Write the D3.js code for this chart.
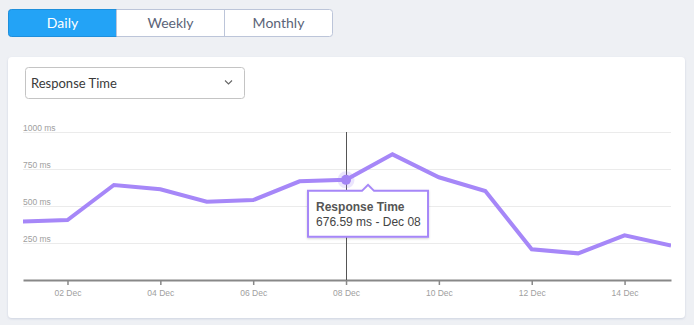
<!DOCTYPE html>
<html><head><meta charset="utf-8">
<script src="https://cdn.jsdelivr.net/npm/d3@7"></script>
<style>
html,body{margin:0;padding:0;background:#eef0f4;}
svg{display:block;}
</style></head>
<body>
<svg id="c" width="694" height="325"></svg>
<script>
// ---- data ----
const periods = ["Daily", "Weekly", "Monthly"];
const metricLabel = "Response Time";
const days = [1,2,3,4,5,6,7,8,9,10,11,12,13,14,15];
const responseMs = [395, 405, 642, 613, 529, 540, 667, 676.59, 849, 694, 601, 207, 180, 302, 232];
const yTicks = [250, 500, 750, 1000];
const xTickDays = [2, 4, 6, 8, 10, 12, 14];
const highlightDay = 8;

const data = days.map((d, i) => ({date: new Date(2023, 11, d), v: responseMs[i]}));

const svg = d3.select("#c");
const defs = svg.append("defs");
const sh = defs.append("filter").attr("id","sh").attr("x","-20%").attr("y","-20%").attr("width","140%").attr("height","160%");
sh.append("feDropShadow").attr("dx",0).attr("dy",1).attr("stdDeviation",1.2).attr("flood-color","#000").attr("flood-opacity",0.18);
const sh2 = defs.append("filter").attr("id","sh2").attr("x","-5%").attr("y","-5%").attr("width","110%").attr("height","110%");
sh2.append("feDropShadow").attr("dx",0).attr("dy",1).attr("stdDeviation",1).attr("flood-color","#8090b0").attr("flood-opacity",0.3);

// ---- button group ----
const bx = d3.scaleBand().domain(periods).range([8.5, 332.5]);
const bg = svg.append("g");
bg.append("rect").attr("x",8.5).attr("y",9.5).attr("width",324).attr("height",27).attr("rx",3)
  .attr("fill","#fff").attr("stroke","#bcc5d9");
periods.forEach((p, i) => {
  if (i === 0) {
    bg.append("path").attr("d", `M${bx(p)+3},9.5 H${bx(p)+bx.bandwidth()} V36.5 H${bx(p)+3} Q${bx(p)},36.5 ${bx(p)},33.5 V12.5 Q${bx(p)},9.5 ${bx(p)+3},9.5 Z`)
      .attr("fill","#23a3f6").attr("stroke","#1e8fdc");
  } else {
    bg.append("line").attr("x1",bx(p)).attr("x2",bx(p)).attr("y1",9.5).attr("y2",36.5).attr("stroke","#bcc5d9");
  }
  bg.append("text").attr("x", bx(p)+bx.bandwidth()/2).attr("y", 28)
    .attr("text-anchor","middle").attr("font-family","Lato, 'Open Sans', sans-serif").attr("font-size",14)
    .attr("fill", i===0 ? "#fff" : "#5b6478").text(p);
});

// ---- card ----
svg.append("rect").attr("x",8).attr("y",57).attr("width",677).attr("height",261).attr("rx",4)
  .attr("fill","#fff").attr("filter","url(#sh2)");

// dropdown
svg.append("rect").attr("x",25.5).attr("y",67.5).attr("width",219).attr("height",31).attr("rx",3)
  .attr("fill","#fff").attr("stroke","#c4c4c4");
svg.append("text").attr("x",31).attr("y",88).attr("font-family","Lato, 'Open Sans', sans-serif")
  .attr("font-size",13).attr("fill","#3a3a3a").text(metricLabel);
svg.append("path").attr("d","M225,80.5 L228.5,84 L232,80.5").attr("fill","none").attr("stroke","#666").attr("stroke-width",1.1);

// ---- chart ----
const x = d3.scaleTime().domain([new Date(2023,11,1,1), new Date(2023,11,15)]).range([23, 671]);
const y = d3.scaleLinear().domain([0, 1000]).range([280, 132]);

defs.append("clipPath").attr("id","clip").append("rect").attr("x",23).attr("y",100).attr("width",648).attr("height",200);

const g = svg.append("g");
// grid
g.selectAll(".grid").data(yTicks).join("line")
  .attr("x1",23).attr("x2",671).attr("y1",d=>Math.round(y(d))+0.5).attr("y2",d=>Math.round(y(d))+0.5)
  .attr("stroke","#ebebeb");
g.selectAll(".ylab").data(yTicks).join("text")
  .attr("x",23).attr("y",d=>y(d)-1.5).attr("font-family","'Liberation Sans', Arial, sans-serif")
  .attr("font-size",8.5).attr("fill","#a0a0a0").text(d=>d+" ms");

// x axis
const xAxis = d3.axisBottom(x)
  .tickValues(xTickDays.map(d=>new Date(2023,11,d)))
  .tickFormat(d3.timeFormat("%d %b")).tickSize(5).tickSizeOuter(0);
const ax = g.append("g").attr("transform","translate(0,280)").call(xAxis);
ax.select(".domain").attr("stroke","#888").attr("stroke-width",2);
ax.selectAll(".tick line").attr("stroke","#888").attr("stroke-width",1.5);
ax.selectAll(".tick text").attr("font-family","'Liberation Sans', Arial, sans-serif").attr("font-size",8.5)
  .attr("fill","#a0a0a0").attr("dy","0.9em");

// crosshair
const hd = data.find(d => d.date.getDate() === highlightDay);
g.append("line").attr("x1",Math.round(x(hd.date))+0.5).attr("x2",Math.round(x(hd.date))+0.5)
  .attr("y1",132).attr("y2",280).attr("stroke","#555").attr("stroke-width",1);

// line
const line = d3.line().x(d=>x(d.date)).y(d=>y(d.v));
g.append("path").datum(data).attr("clip-path","url(#clip)").attr("d",line)
  .attr("fill","none").attr("stroke","#a687f8").attr("stroke-width",4).attr("stroke-linejoin","miter");

// marker
g.append("circle").attr("cx",x(hd.date)).attr("cy",y(hd.v)).attr("r",8.5).attr("fill","#a687f8").attr("opacity",0.22);
g.append("circle").attr("cx",x(hd.date)).attr("cy",y(hd.v)).attr("r",5).attr("fill","#a385f5");

// tooltip
const tx = x(hd.date) - 38, ty = y(hd.v) + 11;
const tw = 120, th = 46;
const px = tx + 60;
const tt = g.append("g");
tt.append("path").attr("d",
  `M${tx},${ty} H${px-6} L${px},${ty-6} L${px+6},${ty} H${tx+tw} V${ty+th} H${tx} Z`)
  .attr("fill","#fff").attr("stroke","#a687f8").attr("stroke-width",2).attr("filter","url(#sh)");
tt.append("text").attr("x",tx+8).attr("y",ty+20).attr("font-family","'Liberation Sans', Arial, sans-serif")
  .attr("font-size",12).attr("font-weight","bold").attr("fill","#555").text(metricLabel);
tt.append("text").attr("x",tx+8).attr("y",ty+35).attr("font-family","'Liberation Sans', Arial, sans-serif")
  .attr("font-size",12).attr("fill","#444").text(`${hd.v} ms - ${d3.timeFormat("%b %d")(hd.date)}`);
</script>
</body></html>
